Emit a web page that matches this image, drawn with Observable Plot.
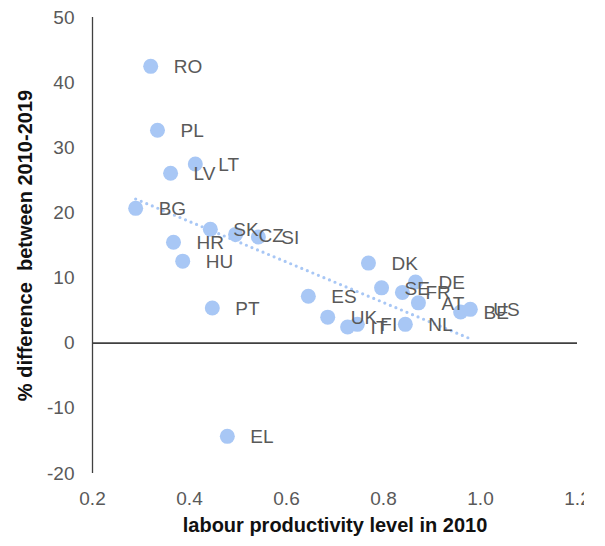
<!DOCTYPE html>
<html>
<head>
<meta charset="utf-8">
<script src="https://cdn.jsdelivr.net/npm/d3@7"></script>
<script src="https://cdn.jsdelivr.net/npm/@observablehq/plot@0.6"></script>
<style>
  html, body { margin: 0; padding: 0; background: #fff; }
  #chart { width: 584px; height: 546px; overflow: hidden; }
  #chart svg { max-width: none !important; }
</style>
</head>
<body>
<div id="chart"></div>
<script>
const countries = ["RO","PL","LT","LV","BG","SK","CZ","SI","HR","HU","PT","EL","ES","UK","IT","FI","DK","SE","FR","DE","AT","NL","BE","US"];
const productivity2010 = [0.320,0.334,0.412,0.361,0.289,0.443,0.495,0.542,0.367,0.386,0.447,0.478,0.645,0.685,0.726,0.746,0.769,0.796,0.839,0.866,0.872,0.845,0.959,0.979];
const change2010_2019 = [42.5,32.7,27.5,26.1,20.7,17.5,16.7,16.3,15.5,12.6,5.4,-14.3,7.2,4.0,2.5,2.9,12.3,8.5,7.8,9.4,6.2,2.9,4.8,5.2];
const xTicks = [0.2, 0.4, 0.6, 0.8, 1.0, 1.2];
const yTicks = [-20, -10, 0, 10, 20, 30, 40, 50];
const xTitle = "labour productivity level in 2010";
const yTitle = "% difference  between 2010-2019";

const data = countries.map((c, i) => ({country: c, x: productivity2010[i], y: change2010_2019[i]}));

const dotColor = "#a8c7f5";
const textColor = "#595959";

const chart = Plot.plot({
  width: 605,
  height: 546,
  marginLeft: 92,
  marginRight: 28,
  marginTop: 17,
  marginBottom: 73,
  style: {fontFamily: "'Liberation Sans', Arial, sans-serif", background: "#fff", maxWidth: "none"},
  x: {domain: [0.2, 1.2]},
  y: {domain: [-20, 50]},
  marks: [
    Plot.axisY({ticks: yTicks, tickSize: 0, tickPadding: 18, fontSize: 19, color: textColor, label: null, tickFormat: d => String(d)}),
    Plot.axisX({ticks: xTicks, tickSize: 0, tickPadding: 18, fontSize: 19, color: textColor, label: null, tickFormat: d3.format(".1f")}),
    Plot.ruleX([0.2], {stroke: "#404040", strokeWidth: 1.3}),
    Plot.ruleY([0], {stroke: "#404040", strokeWidth: 1.8}),
    Plot.linearRegressionY(data, {x: "x", y: "y", ci: 0, stroke: dotColor, strokeWidth: 3.2, strokeDasharray: "0 6", strokeLinecap: "round"}),
    Plot.dot(data, {x: "x", y: "y", r: 7.5, fill: dotColor, stroke: "none"}),
    Plot.text(data, {x: "x", y: "y", text: "country", dx: 23, dy: 1, textAnchor: "start", fontSize: 19, fill: textColor}),
    Plot.text([xTitle], {frameAnchor: "bottom", textAnchor: "middle", dy: 58, fontSize: 20, fontWeight: "bold", fill: "#111"}),
    Plot.text([yTitle], {frameAnchor: "left", textAnchor: "middle", dx: -67, rotate: -90, fontSize: 20, fontWeight: "bold", fill: "#111"})
  ]
});
document.getElementById("chart").appendChild(chart);
</script>
</body>
</html>
